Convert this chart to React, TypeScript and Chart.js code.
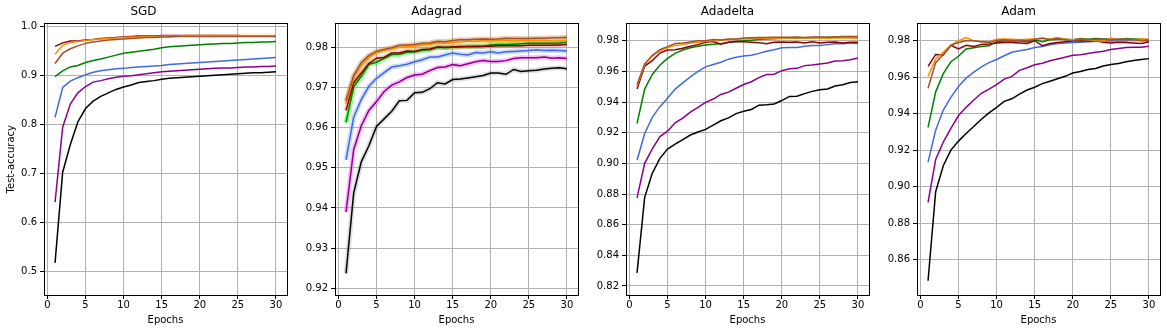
import { useEffect, useRef } from "react";
import { Chart, registerables } from "chart.js";

Chart.register(...registerables);

const epochs = [1, 2, 3, 4, 5, 6, 7, 8, 9, 10, 11, 12, 13, 14, 15, 16, 17, 18, 19, 20, 21, 22, 23, 24, 25, 26, 27, 28, 29, 30];
const xTicks = [0, 5, 10, 15, 20, 25, 30];
const titles = ["SGD", "Adagrad", "Adadelta", "Adam"];
const sgdYTicks = [0.5, 0.6, 0.7, 0.8, 0.9, 1.0];
const adagradYTicks = [0.92, 0.93, 0.94, 0.95, 0.96, 0.97, 0.98];
const adadeltaYTicks = [0.82, 0.84, 0.86, 0.88, 0.9, 0.92, 0.94, 0.96, 0.98];
const adamYTicks = [0.86, 0.88, 0.9, 0.92, 0.94, 0.96, 0.98];

// SGD
const sgdBlack = [0.518, 0.703, 0.759, 0.806, 0.833, 0.848, 0.858, 0.865, 0.872, 0.877, 0.881, 0.886, 0.888, 0.890, 0.893, 0.895, 0.896, 0.897, 0.898, 0.899, 0.900, 0.901, 0.902, 0.903, 0.904, 0.905, 0.906, 0.906, 0.907, 0.908];
const sgdPurple = [0.642, 0.795, 0.842, 0.865, 0.878, 0.887, 0.890, 0.894, 0.897, 0.899, 0.900, 0.902, 0.904, 0.906, 0.908, 0.909, 0.910, 0.911, 0.912, 0.913, 0.914, 0.915, 0.916, 0.916, 0.917, 0.918, 0.918, 0.919, 0.919, 0.920];
const sgdBlue = [0.815, 0.876, 0.889, 0.896, 0.902, 0.907, 0.910, 0.912, 0.914, 0.915, 0.917, 0.918, 0.919, 0.920, 0.921, 0.923, 0.924, 0.925, 0.926, 0.927, 0.928, 0.929, 0.930, 0.931, 0.932, 0.933, 0.934, 0.935, 0.936, 0.937];
const sgdGreen = [0.898, 0.910, 0.918, 0.921, 0.927, 0.931, 0.934, 0.938, 0.942, 0.946, 0.948, 0.950, 0.952, 0.954, 0.957, 0.959, 0.960, 0.961, 0.962, 0.963, 0.964, 0.965, 0.966, 0.966, 0.967, 0.968, 0.968, 0.969, 0.969, 0.970];
const sgdRed = [0.960, 0.967, 0.971, 0.971, 0.973, 0.974, 0.976, 0.977, 0.978, 0.979, 0.980, 0.981, 0.981, 0.981, 0.982, 0.982, 0.982, 0.982, 0.982, 0.982, 0.982, 0.982, 0.982, 0.982, 0.982, 0.981, 0.981, 0.981, 0.981, 0.981];
const sgdOrange = [0.944, 0.962, 0.968, 0.970, 0.972, 0.974, 0.975, 0.976, 0.977, 0.978, 0.979, 0.979, 0.980, 0.980, 0.981, 0.981, 0.981, 0.982, 0.982, 0.982, 0.982, 0.982, 0.982, 0.982, 0.982, 0.982, 0.982, 0.982, 0.982, 0.982];
const sgdBrown = [0.925, 0.946, 0.955, 0.961, 0.966, 0.969, 0.971, 0.973, 0.974, 0.975, 0.976, 0.977, 0.978, 0.978, 0.979, 0.979, 0.980, 0.980, 0.980, 0.980, 0.980, 0.980, 0.980, 0.980, 0.980, 0.980, 0.980, 0.980, 0.980, 0.980];

// Adagrad
const adagradBlack = [0.9237, 0.9437, 0.9515, 0.9555, 0.9603, 0.9622, 0.9641, 0.9667, 0.9668, 0.9687, 0.9688, 0.9697, 0.9712, 0.9709, 0.9720, 0.9721, 0.9724, 0.9727, 0.9730, 0.9736, 0.9736, 0.9733, 0.9745, 0.9740, 0.9742, 0.9743, 0.9746, 0.9748, 0.9749, 0.9747];
const adagradPurple = [0.9390, 0.9545, 0.9605, 0.9643, 0.9665, 0.9690, 0.9706, 0.9714, 0.9725, 0.9731, 0.9733, 0.9742, 0.9750, 0.9751, 0.9757, 0.9754, 0.9759, 0.9764, 0.9767, 0.9765, 0.9765, 0.9767, 0.9772, 0.9774, 0.9774, 0.9774, 0.9776, 0.9773, 0.9774, 0.9772];
const adagradBlue = [0.9520, 0.9626, 0.9670, 0.9703, 0.9723, 0.9737, 0.9751, 0.9754, 0.9758, 0.9764, 0.9769, 0.9776, 0.9776, 0.9781, 0.9786, 0.9783, 0.9781, 0.9787, 0.9786, 0.9789, 0.9786, 0.9789, 0.9790, 0.9791, 0.9792, 0.9794, 0.9792, 0.9793, 0.9792, 0.9791];
const adagradGreen = [0.9613, 0.9702, 0.9728, 0.9758, 0.9763, 0.9773, 0.9782, 0.9783, 0.9788, 0.9789, 0.9793, 0.9794, 0.9800, 0.9799, 0.9800, 0.9801, 0.9802, 0.9803, 0.9802, 0.9806, 0.9807, 0.9807, 0.9808, 0.9809, 0.9810, 0.9810, 0.9810, 0.9810, 0.9811, 0.9813];
const adagradRed = [0.9643, 0.9712, 0.9736, 0.9760, 0.9773, 0.9775, 0.9786, 0.9786, 0.9791, 0.9790, 0.9795, 0.9796, 0.9801, 0.9800, 0.9801, 0.9802, 0.9802, 0.9802, 0.9803, 0.9803, 0.9804, 0.9804, 0.9804, 0.9804, 0.9805, 0.9805, 0.9805, 0.9805, 0.9806, 0.9807];
const adagradOrange = [0.9660, 0.9725, 0.9755, 0.9775, 0.9787, 0.9793, 0.9797, 0.9800, 0.9802, 0.9803, 0.9806, 0.9808, 0.9811, 0.9810, 0.9812, 0.9814, 0.9815, 0.9815, 0.9817, 0.9816, 0.9817, 0.9817, 0.9816, 0.9817, 0.9817, 0.9817, 0.9817, 0.9816, 0.9816, 0.9818];
const adagradBrown = [0.9667, 0.9730, 0.9762, 0.9780, 0.9790, 0.9795, 0.9799, 0.9805, 0.9806, 0.9807, 0.9810, 0.9811, 0.9815, 0.9814, 0.9817, 0.9819, 0.9819, 0.9820, 0.9821, 0.9820, 0.9821, 0.9823, 0.9822, 0.9822, 0.9822, 0.9823, 0.9823, 0.9824, 0.9824, 0.9825];

// Adadelta
const adadeltaBlack = [0.8285, 0.8778, 0.8935, 0.9033, 0.9093, 0.9125, 0.9155, 0.9185, 0.9205, 0.9222, 0.9250, 0.9278, 0.9297, 0.9325, 0.9340, 0.9352, 0.9380, 0.9383, 0.9388, 0.9410, 0.9437, 0.9438, 0.9455, 0.9470, 0.9480, 0.9485, 0.9505, 0.9513, 0.9528, 0.9532];
const adadeltaPurple = [0.8775, 0.9000, 0.9095, 0.9175, 0.9210, 0.9265, 0.9295, 0.9335, 0.9365, 0.9398, 0.9420, 0.9450, 0.9465, 0.9490, 0.9515, 0.9533, 0.9560, 0.9580, 0.9582, 0.9605, 0.9617, 0.9620, 0.9638, 0.9642, 0.9648, 0.9655, 0.9668, 0.9670, 0.9677, 0.9687];
const adadeltaBlue = [0.9020, 0.9195, 0.9300, 0.9370, 0.9425, 0.9485, 0.9525, 0.9565, 0.9600, 0.9630, 0.9645, 0.9660, 0.9680, 0.9692, 0.9700, 0.9705, 0.9718, 0.9732, 0.9742, 0.9755, 0.9757, 0.9757, 0.9765, 0.9770, 0.9770, 0.9775, 0.9780, 0.9780, 0.9785, 0.9783];
const adadeltaGreen = [0.9260, 0.9485, 0.9580, 0.9640, 0.9685, 0.9718, 0.9740, 0.9755, 0.9765, 0.9772, 0.9778, 0.9780, 0.9790, 0.9795, 0.9800, 0.9803, 0.9808, 0.9812, 0.9813, 0.9818, 0.9820, 0.9818, 0.9820, 0.9820, 0.9822, 0.9822, 0.9825, 0.9823, 0.9825, 0.9825];
const adadeltaRed = [0.9485, 0.9635, 0.9670, 0.9720, 0.9740, 0.9742, 0.9752, 0.9765, 0.9775, 0.9790, 0.9795, 0.9778, 0.9790, 0.9795, 0.9793, 0.9790, 0.9788, 0.9780, 0.9790, 0.9792, 0.9790, 0.9792, 0.9785, 0.9793, 0.9785, 0.9790, 0.9792, 0.9785, 0.9790, 0.9790];
const adadeltaOrange = [0.9505, 0.9645, 0.9700, 0.9735, 0.9755, 0.9770, 0.9775, 0.9785, 0.9790, 0.9795, 0.9800, 0.9803, 0.9808, 0.9810, 0.9812, 0.9813, 0.9815, 0.9815, 0.9815, 0.9818, 0.9818, 0.9818, 0.9818, 0.9818, 0.9818, 0.9817, 0.9818, 0.9818, 0.9818, 0.9817];
const adadeltaBrown = [0.9515, 0.9650, 0.9705, 0.9742, 0.9762, 0.9782, 0.9785, 0.9792, 0.9800, 0.9800, 0.9808, 0.9805, 0.9812, 0.9812, 0.9818, 0.9820, 0.9822, 0.9822, 0.9823, 0.9823, 0.9823, 0.9825, 0.9822, 0.9825, 0.9825, 0.9823, 0.9825, 0.9828, 0.9828, 0.9828];

// Adam
const adamBlack = [0.8485, 0.8973, 0.9115, 0.9201, 0.9250, 0.9292, 0.9330, 0.9370, 0.9405, 0.9435, 0.9468, 0.9482, 0.9508, 0.9530, 0.9545, 0.9565, 0.9578, 0.9592, 0.9605, 0.9623, 0.9632, 0.9642, 0.9648, 0.9662, 0.9670, 0.9675, 0.9685, 0.9692, 0.9697, 0.9702];
const adamPurple = [0.8915, 0.9150, 0.9245, 0.9320, 0.9390, 0.9435, 0.9475, 0.9512, 0.9535, 0.9560, 0.9590, 0.9605, 0.9638, 0.9652, 0.9668, 0.9677, 0.9690, 0.9700, 0.9710, 0.9720, 0.9723, 0.9730, 0.9737, 0.9742, 0.9752, 0.9757, 0.9763, 0.9765, 0.9765, 0.9770];
const adamBlue = [0.9135, 0.9310, 0.9420, 0.9490, 0.9550, 0.9595, 0.9628, 0.9657, 0.9680, 0.9697, 0.9718, 0.9737, 0.9745, 0.9752, 0.9763, 0.9768, 0.9778, 0.9785, 0.9788, 0.9790, 0.9792, 0.9795, 0.9797, 0.9798, 0.9798, 0.9800, 0.9800, 0.9802, 0.9800, 0.9800];
const adamGreen = [0.9325, 0.9520, 0.9620, 0.9685, 0.9715, 0.9755, 0.9762, 0.9768, 0.9772, 0.9795, 0.9798, 0.9800, 0.9798, 0.9795, 0.9805, 0.9795, 0.9805, 0.9808, 0.9808, 0.9805, 0.9812, 0.9808, 0.9812, 0.9810, 0.9810, 0.9808, 0.9812, 0.9810, 0.9808, 0.9805];
const adamRed = [0.9660, 0.9725, 0.9722, 0.9775, 0.9755, 0.9775, 0.9768, 0.9780, 0.9782, 0.9787, 0.9790, 0.9790, 0.9788, 0.9785, 0.9800, 0.9773, 0.9785, 0.9790, 0.9795, 0.9798, 0.9800, 0.9798, 0.9800, 0.9792, 0.9788, 0.9792, 0.9790, 0.9788, 0.9785, 0.9795];
const adamOrange = [0.9605, 0.9700, 0.9738, 0.9775, 0.9800, 0.9818, 0.9800, 0.9795, 0.9795, 0.9808, 0.9810, 0.9808, 0.9805, 0.9808, 0.9810, 0.9812, 0.9810, 0.9818, 0.9808, 0.9805, 0.9808, 0.9805, 0.9800, 0.9798, 0.9815, 0.9805, 0.9808, 0.9805, 0.9810, 0.9808];
const adamBrown = [0.9540, 0.9680, 0.9725, 0.9775, 0.9790, 0.9800, 0.9800, 0.9795, 0.9790, 0.9802, 0.9805, 0.9802, 0.9803, 0.9800, 0.9808, 0.9815, 0.9805, 0.9812, 0.9805, 0.9800, 0.9808, 0.9805, 0.9808, 0.9808, 0.9805, 0.9808, 0.9810, 0.9805, 0.9802, 0.9805];

// drawing order: first is on top
const lineColors = ["#a0522d", "#ff8c00", "#8b0000", "#008000", "#4169e1", "#8b008b", "#000000"];
const bandColors = [
  "rgba(205,133,63,0.40)",
  "rgba(255,165,0,0.35)",
  "rgba(240,110,110,0.35)",
  "rgba(0,255,0,0.45)",
  "rgba(135,170,250,0.40)",
  "rgba(238,130,238,0.50)",
  "rgba(128,128,128,0.25)",
];

const panelSeries = [
  [sgdBrown, sgdOrange, sgdRed, sgdGreen, sgdBlue, sgdPurple, sgdBlack],
  [adagradBrown, adagradOrange, adagradRed, adagradGreen, adagradBlue, adagradPurple, adagradBlack],
  [adadeltaBrown, adadeltaOrange, adadeltaRed, adadeltaGreen, adadeltaBlue, adadeltaPurple, adadeltaBlack],
  [adamBrown, adamOrange, adamRed, adamGreen, adamBlue, adamPurple, adamBlack],
];
const panelYTicks = [sgdYTicks, adagradYTicks, adadeltaYTicks, adamYTicks];
const panelYRange = [
  [0.4524, 1.0068],
  [0.91833, 0.98597],
  [0.8141, 0.99135],
  [0.8407, 0.9895],
];
const panelDecimals = [1, 2, 2, 2];

// layout (px)
const panelGeom = [
  { left: 0, width: 297, yAxisW: 44, padRight: 10, band: 0 },
  { left: 295, width: 293, yAxisW: 40, padRight: 10, band: 5 },
  { left: 586, width: 293, yAxisW: 40, padRight: 10, band: 0 },
  { left: 877, width: 290, yAxisW: 40, padRight: 7, band: 0 },
];

const FONT = "'DejaVu Sans', sans-serif";
const HEIGHT = 333;

const framePlugin = {
  id: "frame",
  afterDraw(chart: any) {
    const { ctx, chartArea } = chart;
    const l = Math.round(chartArea.left - 0.5) + 0.5;
    const t = Math.round(chartArea.top - 0.5) + 0.5;
    const r = Math.round(chartArea.right - 0.5) + 0.5;
    const b = Math.round(chartArea.bottom - 0.5) + 0.5;
    ctx.save();
    ctx.strokeStyle = "#000";
    ctx.lineWidth = 1;
    ctx.strokeRect(l, t, r - l, b - t);
    ctx.restore();
  },
};

function Panel({ index }: { index: number }) {
  const ref = useRef<HTMLCanvasElement | null>(null);
  const g = panelGeom[index];

  useEffect(() => {
    if (!ref.current) return;
    const series = panelSeries[index];
    const lines = series.map((vals, i) => ({
      data: epochs.map((e, j) => ({ x: e, y: vals[j] })),
      borderColor: lineColors[i],
      borderWidth: 1.5,
      pointRadius: 0,
      fill: false,
      tension: 0,
      order: 0,
    }));
    const bands =
      g.band > 0
        ? series.map((vals, i) => ({
            data: epochs.map((e, j) => ({ x: e, y: vals[j] })),
            borderColor: bandColors[i],
            borderWidth: g.band,
            pointRadius: 0,
            fill: false,
            tension: 0,
            order: 1,
          }))
        : [];
    const yTicks = panelYTicks[index];
    const dec = panelDecimals[index];
    const chart = new Chart(ref.current, {
      type: "line",
      data: { datasets: [...lines, ...bands] as any },
      plugins: [framePlugin],
      options: {
        animation: false,
        responsive: false,
        devicePixelRatio: 1,
        layout: { padding: { left: 0, right: g.padRight, top: 0, bottom: 0 } },
        plugins: {
          legend: { display: false },
          tooltip: { enabled: false },
          title: {
            display: true,
            text: titles[index],
            color: "#000",
            font: { family: FONT, size: 12, weight: "normal" as any },
            padding: { top: 5, bottom: 4 },
          },
        },
        scales: {
          x: {
            type: "linear",
            min: -0.45,
            max: 31.45,
            afterBuildTicks: (axis: any) => {
              axis.ticks = xTicks.map((v) => ({ value: v }));
            },
            afterFit: (axis: any) => {
              axis.height = 38;
            },
            ticks: {
              color: "#000",
              font: { family: FONT, size: 10 },
              padding: 0,
              maxRotation: 0,
              autoSkip: false,
              callback: (v: any) => String(v),
            },
            grid: { color: "#b0b0b0", lineWidth: 1, tickColor: "#000", tickLength: 4 },
            border: { display: true, color: "#000", width: 1 },
            title: {
              display: true,
              text: "Epochs",
              color: "#000",
              font: { family: FONT, size: 10 },
              padding: { top: 0, bottom: 6.5 },
            },
          },
          y: {
            type: "linear",
            min: panelYRange[index][0],
            max: panelYRange[index][1],
            afterBuildTicks: (axis: any) => {
              axis.ticks = yTicks.map((v) => ({ value: v }));
            },
            afterFit: (axis: any) => {
              axis.width = g.yAxisW;
            },
            ticks: {
              color: "#000",
              font: { family: FONT, size: 10 },
              padding: 3,
              autoSkip: false,
              callback: (v: any) => Number(v).toFixed(dec),
            },
            grid: { color: "#b0b0b0", lineWidth: 1, tickColor: "#000", tickLength: 4 },
            border: { display: true, color: "#000", width: 1 },
            title: {
              display: index === 0,
              text: "Test-accuracy",
              color: "#000",
              font: { family: FONT, size: 10 },
              padding: { top: 5, bottom: 0 },
            },
          },
        },
      },
    });
    return () => chart.destroy();
  }, [index]);

  return (
    <canvas
      ref={ref}
      width={g.width}
      height={HEIGHT}
      style={{ position: "absolute", left: g.left, top: 0, width: g.width, height: HEIGHT }}
    />
  );
}

export default function App() {
  return (
    <div
      style={{
        position: "absolute",
        left: 0,
        top: 0,
        width: 1167,
        height: HEIGHT,
        background: "#fff",
        overflow: "hidden",
      }}
    >
      {titles.map((_, i) => (
        <Panel key={i} index={i} />
      ))}
    </div>
  );
}
